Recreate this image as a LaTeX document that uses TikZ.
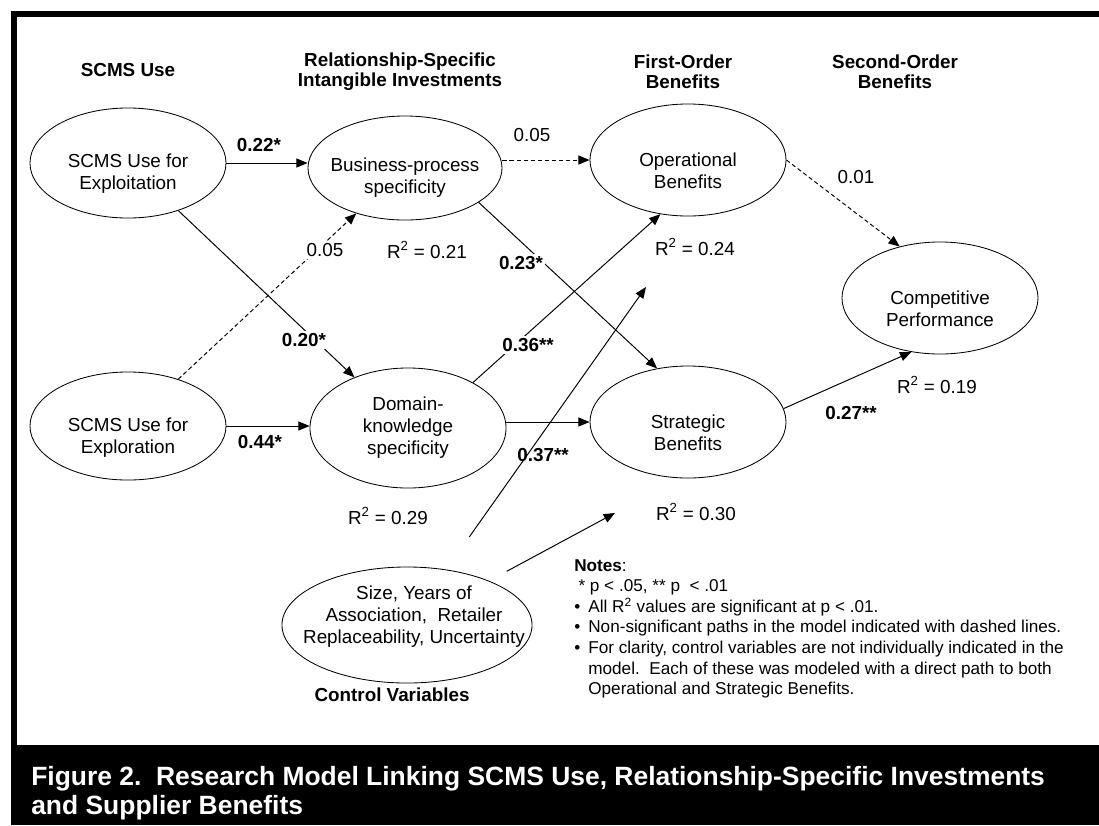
\documentclass[tikz,border=0pt]{standalone}
\usepackage{fontspec}
\setmainfont{Liberation Sans}
\usetikzlibrary{arrows.meta, shapes.geometric}
\tikzset{
  latent/.style={draw, ellipse, inner sep=0pt, line width=0.6pt},
  vtext/.style={align=center, font=\fontsize{13.4}{15.6}\selectfont},
  colhead/.style={align=center, font=\bfseries\fontsize{13.4}{14.2}\selectfont},
  coef/.style={font=\bfseries\fontsize{13.4}{15.6}\selectfont, inner sep=1.5pt},
  rsq/.style={font=\fontsize{13.4}{15.6}\selectfont, inner sep=1.5pt},
  wipe/.style={fill=white},
  link/.style={-{Triangle[length=8pt,width=6.5pt]}, line width=0.7pt},
  nslink/.style={link, dash pattern=on 3pt off 2pt},
}

\begin{document}
\begin{tikzpicture}[x=0.025cm, y=-0.025cm]
	\useasboundingbox (0,0) rectangle (1099,825);
	\fill[white] (0,0) rectangle (1099,825);
	% frame and caption bar
	\fill[black] (11,11) rectangle (1099,17);
	\fill[black] (11,11) rectangle (17,825);
	\fill[black] (11,745) rectangle (1099,825);

	% column headings
	\node[colhead] (h1) at (128,70) {SCMS Use};
	\node[colhead] (h2) at (400,72) {Relationship-Specific\\Intangible Investments};
	\node[colhead] (h3) at (683,72) {First-Order\\Benefits};
	\node[colhead] (h4) at (895,72) {Second-Order\\Benefits};

	% constructs
	\node[latent, minimum width=4.9cm, minimum height=2.75cm] (expt) at (128,163) {};
	\node[latent, minimum width=4.85cm, minimum height=2.6cm] (bps) at (405,168) {};
	\node[latent, minimum width=4.9cm, minimum height=2.8cm] (op) at (688,160) {};
	\node[latent, minimum width=4.9cm, minimum height=2.7cm] (expr) at (128,426) {};
	\node[latent, minimum width=4.9cm, minimum height=3cm] (dks) at (408,428) {};
	\node[latent, minimum width=4.9cm, minimum height=2.8cm] (sb) at (688,422) {};
	\node[latent, minimum width=4.9cm, minimum height=2.8cm] (cp) at (940,298) {};
	\node[latent, minimum width=6.25cm, minimum height=2.9cm] (ctrl) at (407,625) {};
	\coordinate (ctrlop) at (646,287);
	\coordinate (ctrlsb) at (615,513);

	% paths
	\draw[link] (expt.east) -- (expt.east -| bps.west);
	\draw[nslink] (op.west -| bps.east) -- (op.west);
	\draw[nslink] (expr) -- (bps);
	\draw[link] (expt) -- (dks);
	\draw[link] (expr.east) -- (expr.east -| dks.west);
	\draw[link] (bps.-25) -- (sb.120);
	\draw[link] (dks.35) -- (op.-117);
	\draw[link] (sb.west -| dks.east) -- (sb.west);
	\draw[nslink] (op.east) -- (cp.128);
	\draw[link] (sb.8) -- (cp.-118);
	\draw[link, shorten <=1cm] (ctrl) -- (ctrlop);
	\draw[link, shorten <=0.5cm] (ctrl) -- (ctrlsb);

	% construct names
	\node[vtext] (expttx) at (128,174) {SCMS Use for\\Exploitation};
	\node[vtext] (bpstx) at (405,178) {Business-process\\specificity};
	\node[vtext] (optx) at (688,171) {Operational\\Benefits};
	\node[vtext] (exprtx) at (128,438) {SCMS Use for\\Exploration};
	\node[vtext] (dkstx) at (408,428) {Domain-\\knowledge\\specificity};
	\node[vtext] (sbtx) at (688,433) {Strategic\\Benefits};
	\node[vtext] (cptx) at (940,309) {Competitive\\Performance};
	\node[vtext] (ctrltx) at (414,617) {Size, Years of\\Association,\ \ Retailer\\Replaceability, Uncertainty};
	\node[colhead] (ctrlhd) at (392,695) {Control Variables};

	% path coefficients
	\node[coef] (c022) at (259,145) {0.22*};
	\node[rsq] (c005a) at (532,135) {0.05};
	\node[rsq, wipe] (c005b) at (325,250) {0.05};
	\node[coef, wipe] (c023) at (521,263) {0.23*};
	\node[rsq] (c001) at (856,177) {0.01};
	\node[coef, wipe] (c020) at (304,340) {0.20*};
	\node[coef, wipe] (c036) at (528,345) {0.36**};
	\node[coef] (c044) at (260,442) {0.44*};
	\node[coef] (c037) at (543,455) {0.37**};
	\node[coef] (c027) at (851,413) {0.27**};

	% explained variance
	\node[rsq] (r021) at (427,250) {R\textsuperscript{2} = 0.21};
	\node[rsq] (r024) at (695,247) {R\textsuperscript{2} = 0.24};
	\node[rsq] (r019) at (937,385) {R\textsuperscript{2} = 0.19};
	\node[rsq] (r029) at (388,516) {R\textsuperscript{2} = 0.29};
	\node[rsq] (r030) at (696,512) {R\textsuperscript{2} = 0.30};

	% notes
	\node[anchor=north west, inner sep=0pt, align=left, font=\fontsize{12.2}{14.65}\selectfont] (notes) at (574,559) {\textbf{Notes}:\\
		\hspace*{3pt}* p < .05, ** p\ \ < .01\\
		\makebox[10pt][l]{•}All R\textsuperscript{2} values are significant at p < .01.\\
		\makebox[10pt][l]{•}Non-significant paths in the model indicated with dashed lines.\\
		\makebox[10pt][l]{•}For clarity, control variables are not individually indicated in the\\
		\hspace*{10pt}model.\ \ Each of these was modeled with a direct path to both\\
		\hspace*{10pt}Operational and Strategic Benefits.};

	% caption
	\node[anchor=north west, inner sep=0pt, align=left, text=white, font=\bfseries\fontsize{18.8}{20.6}\selectfont] (capt) at (31,766) {Figure 2.\ \ Research Model Linking SCMS Use, Relationship-Specific Investments\\and Supplier Benefits};
\end{tikzpicture}
\end{document}
